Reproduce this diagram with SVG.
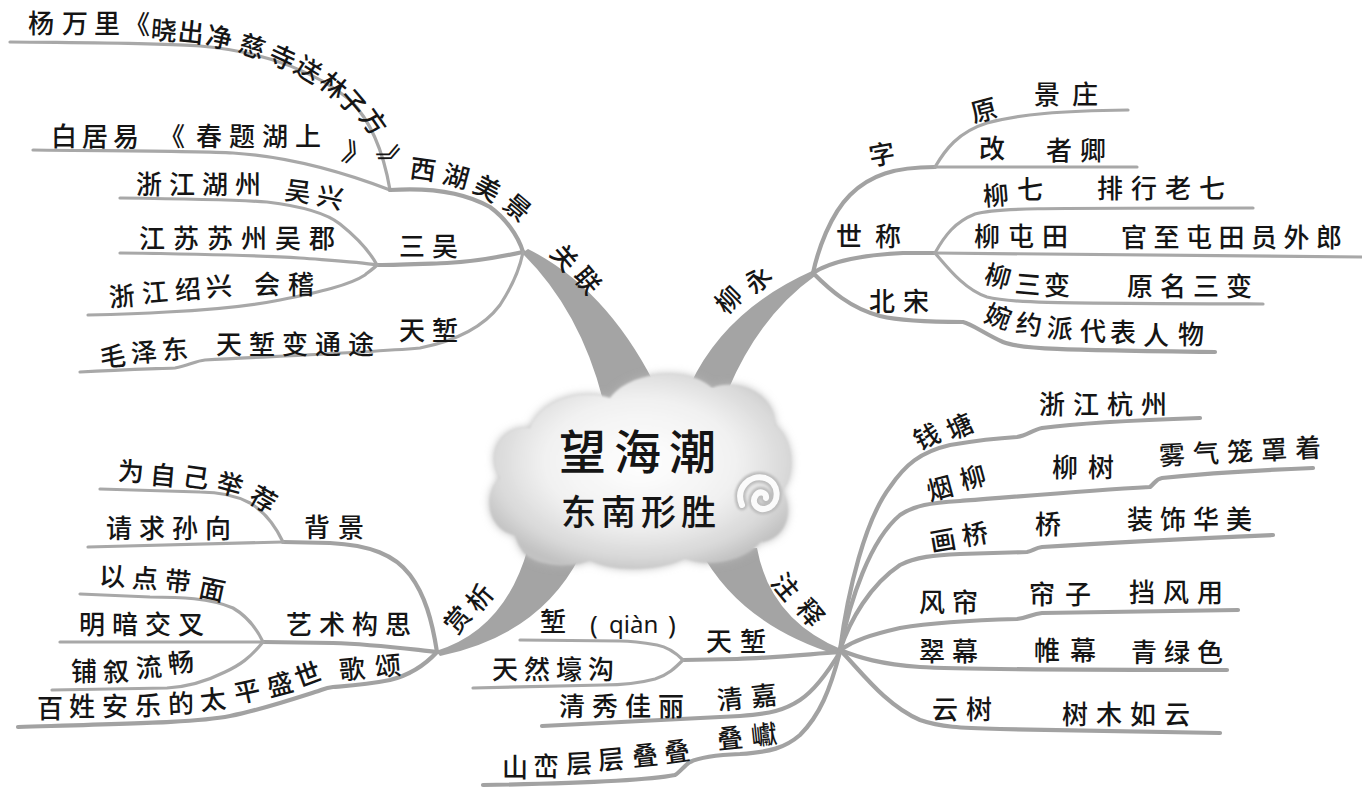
<svg xmlns="http://www.w3.org/2000/svg" width="1362" height="792" viewBox="0 0 1362 792">
<defs>
<style>
.t{font-family:"Noto Sans CJK SC","Noto Sans CJK JP",sans-serif;font-size:26px;font-weight:500;fill:#151515}
.c{text-anchor:middle}
.ln{fill:none;stroke:#a8a8a8;stroke-width:3.2;stroke-linecap:round;stroke-linejoin:round}
.lk{fill:none;stroke:#a2a2a2;stroke-width:4.2;stroke-linecap:round;stroke-linejoin:round}
.br{fill:#a4a4a4}
.title{font-family:"Noto Sans CJK SC",sans-serif;font-weight:500;fill:#151515}
</style>
<radialGradient id="cg" cx="50%" cy="45%" r="58%">
<stop offset="0" stop-color="#ffffff"/>
<stop offset="0.55" stop-color="#f1f1f1"/>
<stop offset="0.85" stop-color="#d8d8d8"/>
<stop offset="1" stop-color="#c2c2c2"/>
</radialGradient>
<filter id="soft" x="-20%" y="-20%" width="140%" height="140%"><feGaussianBlur stdDeviation="4"/></filter>
<filter id="soft2" x="-20%" y="-20%" width="140%" height="140%"><feGaussianBlur stdDeviation="1.2"/></filter>
</defs>
<rect width="1362" height="792" fill="#ffffff"/>

<g id="connectors">
<path class="br" d="M522,253 Q580,310 603,400 L660,395 Q610,290 528,249 Z"/>
<path class="br" d="M690,385 Q725,310 812,271 L815,276 Q760,315 728,390 Z"/>
<path class="br" d="M436,651 Q505,630 528,548 L580,556 Q540,635 440,656 Z"/>
<path class="br" d="M700,550 Q740,625 838,655 L843,650 Q770,620 757,548 Z"/>
<path class="ln" d="M10,42 C100,43 160,43 200,46 C270,52 320,75 350,100 C372,122 384,155 390,190"/>
<path class="ln" d="M33,150 C120,151 200,151 233,153 C280,156 330,167 390,190"/>
<path class="lk" d="M390,190 C420,188 460,190 490,207 C505,218 518,235 523,252"/>
<path class="lk" d="M523,252 C500,257 470,262 447,263 C420,264 400,265 377,265"/>
<path class="ln" d="M120,198 C200,199 240,200 267,202 C300,206 325,212 340,224 C355,236 370,252 377,265"/>
<path class="ln" d="M120,253 C200,254 270,256 300,258 C340,261 360,262 377,265"/>
<path class="ln" d="M88,315 C130,314 150,313 167,312 C210,310 250,306 280,300 C320,292 350,285 365,275 C370,271 374,268 377,265"/>
<path class="ln" d="M80,372 C120,370 150,369 175,368 C188,366 195,361 205,360 C280,356 360,353 420,348 C460,340 485,325 500,305 C513,285 520,268 523,252"/>
<path class="lk" d="M813,273 C818,250 830,215 850,195 C870,175 895,167 935,167"/>
<path class="ln" d="M935,167 C945,150 958,132 987,123 C1020,114 1060,111 1128,110"/>
<path class="ln" d="M935,167 L1137,167"/>
<path class="lk" d="M813,273 C830,262 860,255 903,253 L935,253"/>
<path class="ln" d="M935,253 C945,235 955,222 975,214 C995,208 1030,208 1253,208"/>
<path class="ln" d="M935,253 L1362,257"/>
<path class="ln" d="M935,253 C948,268 965,290 987,297 C1010,303 1040,303 1263,304"/>
<path class="lk" d="M813,273 C830,290 850,308 880,316 C905,322 940,322 963,322 C972,324 985,334 1003,342 C1020,349 1060,350 1215,352"/>
<path class="lk" d="M437,652 C432,620 425,595 410,575 C395,555 370,545 330,543 L283,542"/>
<path class="ln" d="M283,542 C275,525 265,512 250,503 C235,495 215,492 200,492 L100,489"/>
<path class="ln" d="M283,542 L88,547"/>
<path class="lk" d="M437,652 C400,648 370,644 333,643 L263,642"/>
<path class="ln" d="M263,642 C255,625 245,615 233,608 C210,598 180,597 150,597 L80,594"/>
<path class="ln" d="M263,642 L60,642"/>
<path class="ln" d="M263,642 C250,658 240,665 225,672 C205,682 185,687 167,688 L52,690"/>
<path class="lk" d="M437,652 C425,665 410,675 390,680 C365,685 345,686 333,687 C325,688 322,690 315,692 C290,700 260,710 230,716 C200,722 150,723 18,727"/>
<path class="lk" d="M840,652 C800,655 770,658 737,659 L683,660"/>
<path class="ln" d="M683,660 C675,652 668,647 657,645 C640,642 630,641 620,641 L520,640"/>
<path class="ln" d="M683,660 C675,668 668,675 655,679 C640,683 625,685 603,685 L473,688"/>
<path class="lk" d="M840,652 C828,672 815,690 800,700 C785,710 770,714 740,716 C700,718 650,720 542,726"/>
<path class="lk" d="M840,652 C830,690 820,715 800,735 C785,748 770,752 740,754 C715,755 700,757 690,762 C684,766 680,772 675,775 C650,780 600,783 483,785"/>
<path class="lk" d="M840,650 C848,590 865,520 890,487 C905,465 920,452 950,445 C980,440 1000,438 1017,437 C1027,436 1032,430 1042,428 C1080,423 1140,420 1200,418"/>
<path class="lk" d="M840,650 C850,600 870,540 900,515 C915,505 930,503 960,501 C1000,498 1080,491 1150,487 C1155,483 1156,479 1162,478 C1200,474 1260,470 1313,468"/>
<path class="lk" d="M840,650 C850,620 870,585 900,565 C915,557 935,555 960,554 L1027,552 C1033,551 1035,548 1042,547 C1100,543 1200,538 1273,535"/>
<path class="lk" d="M840,650 C855,640 870,635 900,628 C930,623 980,620 1017,619 C1027,618 1032,614 1042,613 L1238,610"/>
<path class="lk" d="M840,650 C860,658 880,664 920,667 C950,669 1000,670 1227,670"/>
<path class="lk" d="M840,650 C860,670 885,705 920,720 C940,727 960,728 1000,729 L1220,733"/>
</g>

<g id="center">
<path d="M515,535 C488,530 482,495 500,478 C485,455 500,425 530,428 C540,400 580,388 610,398 C630,370 690,366 712,388 C735,378 775,392 775,425 C795,440 795,478 782,490 C795,512 785,540 760,542 C745,562 705,568 685,558 C660,572 610,572 590,560 C570,570 530,565 522,550 C518,545 517,540 515,535 Z" fill="#b8b8b8" filter="url(#soft)"/>
<path d="M515,535 C488,530 482,495 500,478 C485,455 500,425 530,428 C540,400 580,388 610,398 C630,370 690,366 712,388 C735,378 775,392 775,425 C795,440 795,478 782,490 C795,512 785,540 760,542 C745,562 705,568 685,558 C660,572 610,572 590,560 C570,570 530,565 522,550 C518,545 517,540 515,535 Z" fill="url(#cg)" filter="url(#soft2)"/>
<path d="M742,505 C735,488 750,474 765,478 C780,483 780,503 768,508 C758,512 750,503 756,495 C760,490 767,493 766,498" fill="none" stroke="#bdbdbd" stroke-width="11" stroke-linecap="round" filter="url(#soft2)"/>
<path d="M742,505 C735,488 750,474 765,478 C780,483 780,503 768,508 C758,512 750,503 756,495 C760,490 767,493 766,498" fill="none" stroke="#fbfbfb" stroke-width="6" stroke-linecap="round"/>
<text class="title" x="559" y="469" font-size="47" letter-spacing="8">望海潮</text>
<text class="title" x="561" y="525" font-size="35" letter-spacing="5">东南形胜</text>
</g>

<g id="n-guanlian">
<text class="t c" x="564" y="267" transform="rotate(50 564 258)">关</text>
<text class="t c" x="587" y="290" transform="rotate(50 587 281)">联</text>
</g>
<g id="n-xihu">
<text class="t c" x="423" y="179" transform="rotate(8 423 170)">西</text>
<text class="t c" x="456" y="186" transform="rotate(15 456 177)">湖</text>
<text class="t c" x="487" y="198" transform="rotate(28 487 189)">美</text>
<text class="t c" x="517" y="217" transform="rotate(40 517 208)">景</text>
</g>
<g id="n-yang">
<text class="t c" x="41" y="33">杨</text>
<text class="t c" x="75" y="33">万</text>
<text class="t c" x="107" y="33">里</text>
<text class="t c" x="137" y="34">《</text>
<text class="t c" x="164" y="40" transform="rotate(5 164 31)">晓</text>
<text class="t c" x="191" y="42" transform="rotate(6 191 33)">出</text>
<text class="t c" x="219" y="47" transform="rotate(12 219 38)">净</text>
<text class="t c" x="252" y="56" transform="rotate(18 252 47)">慈</text>
<text class="t c" x="282" y="67" transform="rotate(25 282 58)">寺</text>
<text class="t c" x="308" y="79" transform="rotate(32 308 70)">送</text>
<text class="t c" x="333" y="95" transform="rotate(40 333 86)">林</text>
<text class="t c" x="352" y="112" transform="rotate(50 352 103)">子</text>
<text class="t c" x="373" y="131" transform="rotate(55 373 122)">方</text>
<text class="t c" x="391" y="169" transform="rotate(65 391 160)">》</text>
</g>
<g id="n-bai">
<text class="t" x="51" y="146" letter-spacing="5">白居易</text>
<text class="t c" x="172" y="146">《</text>
<text class="t" x="196" y="146" letter-spacing="7">春题湖上</text>
<text class="t c" x="356" y="164" transform="rotate(20 356 155)">》</text>
</g>
<g id="n-sanwu">
<text class="t" x="399" y="256" letter-spacing="7">三吴</text>
</g>
<g id="n-huzhou">
<text class="t" x="136" y="194" letter-spacing="7">浙江湖州</text>
<text class="t c" x="298" y="201" transform="rotate(8 298 192)">吴</text>
<text class="t c" x="330" y="207" transform="rotate(12 330 198)">兴</text>
</g>
<g id="n-suzhou">
<text class="t" x="139" y="248" letter-spacing="8">江苏苏州吴郡</text>
</g>
<g id="n-shaoxing">
<text class="t c" x="122" y="306" transform="rotate(-5 122 297)">浙</text>
<text class="t c" x="155" y="302" transform="rotate(-5 155 293)">江</text>
<text class="t c" x="188" y="299" transform="rotate(-5 188 290)">绍</text>
<text class="t c" x="219" y="296" transform="rotate(-5 219 287)">兴</text>
<text class="t" x="254" y="294" letter-spacing="8">会稽</text>
</g>
<g id="n-tianqian1">
<text class="t" x="399" y="340" letter-spacing="7">天堑</text>
<text class="t c" x="113" y="366" transform="rotate(-5 113 357)">毛</text>
<text class="t c" x="144" y="362" transform="rotate(-5 144 353)">泽</text>
<text class="t c" x="175" y="359" transform="rotate(-5 175 350)">东</text>
<text class="t" x="216" y="354" letter-spacing="7">天堑变通途</text>
</g>

<g id="n-liuyong">
<text class="t c" x="729" y="309" transform="rotate(-45 729 300)">柳</text>
<text class="t c" x="758" y="289" transform="rotate(-45 758 280)">永</text>
</g>
<g id="n-zi">
<text class="t c" x="882" y="164" transform="rotate(-10 882 155)">字</text>
<text class="t c" x="984" y="120" transform="rotate(-15 984 111)">原</text>
<text class="t" x="1034" y="104" letter-spacing="12">景庄</text>
<text class="t c" x="992" y="158">改</text>
<text class="t" x="1046" y="160" letter-spacing="8">者卿</text>
</g>
<g id="n-shicheng">
<text class="t" x="836" y="246" letter-spacing="13">世称</text>
<text class="t c" x="996" y="205" transform="rotate(-5 996 196)">柳</text>
<text class="t c" x="1030" y="199">七</text>
<text class="t" x="1097" y="198" letter-spacing="8">排行老七</text>
<text class="t" x="974" y="246" letter-spacing="8">柳屯田</text>
<text class="t" x="1121" y="247" letter-spacing="6.5">官至屯田员外郎</text>
<text class="t c" x="998" y="286" transform="rotate(15 998 277)">柳</text>
<text class="t c" x="1028" y="294" transform="rotate(5 1028 285)">三</text>
<text class="t c" x="1057" y="295">变</text>
<text class="t" x="1127" y="296" letter-spacing="7">原名三变</text>
</g>
<g id="n-beisong">
<text class="t" x="869" y="311" letter-spacing="8">北宋</text>
<text class="t c" x="998" y="326" transform="rotate(20 998 317)">婉</text>
<text class="t c" x="1029" y="334" transform="rotate(8 1029 325)">约</text>
<text class="t c" x="1060" y="338" transform="rotate(5 1060 329)">派</text>
<text class="t c" x="1093" y="341">代</text>
<text class="t c" x="1123" y="342">表</text>
<text class="t c" x="1156" y="345">人</text>
<text class="t c" x="1191" y="344">物</text>
</g>

<g id="n-shangxi">
<text class="t c" x="458" y="629" transform="rotate(-50 458 620)">赏</text>
<text class="t c" x="480" y="607" transform="rotate(-50 480 598)">析</text>
</g>
<g id="n-beijing">
<text class="t" x="304" y="537" letter-spacing="8">背景</text>
<text class="t c" x="131" y="481" transform="rotate(3 131 472)">为</text>
<text class="t c" x="163" y="485" transform="rotate(5 163 476)">自</text>
<text class="t c" x="196" y="487" transform="rotate(8 196 478)">己</text>
<text class="t c" x="230" y="494" transform="rotate(15 230 485)">举</text>
<text class="t c" x="263" y="509" transform="rotate(30 263 500)">荐</text>
<text class="t" x="106" y="538" letter-spacing="7">请求孙向</text>
</g>
<g id="n-yishu">
<text class="t" x="286" y="634" letter-spacing="7">艺术构思</text>
<text class="t c" x="112" y="586">以</text>
<text class="t c" x="145" y="588" transform="rotate(3 145 579)">点</text>
<text class="t c" x="178" y="591" transform="rotate(6 178 582)">带</text>
<text class="t c" x="212" y="599" transform="rotate(12 212 590)">面</text>
<text class="t" x="79" y="634" letter-spacing="7">明暗交叉</text>
<text class="t c" x="84" y="681">铺</text>
<text class="t c" x="116" y="681" transform="rotate(-3 116 672)">叙</text>
<text class="t c" x="149" y="677" transform="rotate(-5 149 668)">流</text>
<text class="t c" x="181" y="672" transform="rotate(-6 181 663)">畅</text>
</g>
<g id="n-gesong">
<text class="t" x="339" y="677" letter-spacing="10" transform="rotate(-5 370 668)">歌颂</text>
<text class="t c" x="50" y="718">百</text>
<text class="t c" x="82" y="716">姓</text>
<text class="t c" x="115" y="716">安</text>
<text class="t c" x="148" y="715">乐</text>
<text class="t c" x="181" y="713" transform="rotate(-3 181 704)">的</text>
<text class="t c" x="213" y="709" transform="rotate(-6 213 700)">太</text>
<text class="t c" x="247" y="701" transform="rotate(-12 247 692)">平</text>
<text class="t c" x="280" y="694" transform="rotate(-15 280 685)">盛</text>
<text class="t c" x="308" y="684" transform="rotate(-20 308 675)">世</text>
</g>

<g id="n-zhushi">
<text class="t c" x="785" y="596" transform="rotate(50 785 587)">注</text>
<text class="t c" x="810" y="622" transform="rotate(50 810 613)">释</text>
</g>
<g id="n-tianqian2">
<text class="t" x="706" y="651" letter-spacing="8">天堑</text>
<text class="t c" x="553" y="631">堑</text>
<text x="590" y="634" font-family="Noto Sans, sans-serif" font-size="26" fill="#151515">(</text>
<text x="609" y="633" font-family="Noto Sans, sans-serif" font-size="24" fill="#151515">qiàn</text>
<text x="668" y="634" font-family="Noto Sans, sans-serif" font-size="26" fill="#151515">)</text>
<text class="t" x="492" y="679" letter-spacing="6">天然壕沟</text>
</g>
<g id="n-qingjia">
<text class="t" x="717" y="707" letter-spacing="8" transform="rotate(-6 746 698)">清嘉</text>
<text class="t" x="559" y="716" letter-spacing="7">清秀佳丽</text>
</g>
<g id="n-dieyan">
<text class="t" x="717" y="746" letter-spacing="8" transform="rotate(-6 746 737)">叠巘</text>
<text class="t c" x="515" y="777">山</text>
<text class="t c" x="546" y="776">峦</text>
<text class="t c" x="579" y="773" transform="rotate(-3 579 764)">层</text>
<text class="t c" x="611" y="769" transform="rotate(-5 611 760)">层</text>
<text class="t c" x="645" y="765" transform="rotate(-6 645 756)">叠</text>
<text class="t c" x="677" y="761" transform="rotate(-8 677 752)">叠</text>
</g>
<g id="n-qiantang">
<text class="t c" x="927" y="446" transform="rotate(-25 927 437)">钱</text>
<text class="t c" x="960" y="436" transform="rotate(-25 960 427)">塘</text>
<text class="t" x="1039" y="414" letter-spacing="8">浙江杭州</text>
</g>
<g id="n-yanliu">
<text class="t c" x="940" y="498" transform="rotate(-15 940 489)">烟</text>
<text class="t c" x="973" y="487" transform="rotate(-15 973 478)">柳</text>
<text class="t" x="1052" y="477" letter-spacing="10">柳树</text>
<text class="t" x="1159" y="461" letter-spacing="8" transform="rotate(-3 1240 452)">雾气笼罩着</text>
</g>
<g id="n-huaqiao">
<text class="t c" x="943" y="550" transform="rotate(-10 943 541)">画</text>
<text class="t c" x="975" y="544" transform="rotate(-10 975 535)">桥</text>
<text class="t c" x="1048" y="534">桥</text>
<text class="t" x="1127" y="529" letter-spacing="7">装饰华美</text>
</g>
<g id="n-fenglian">
<text class="t" x="919" y="612" letter-spacing="7">风帘</text>
<text class="t" x="1029" y="604" letter-spacing="10">帘子</text>
<text class="t" x="1129" y="602" letter-spacing="8">挡风用</text>
</g>
<g id="n-cuimu">
<text class="t" x="919" y="661" letter-spacing="7">翠幕</text>
<text class="t" x="1034" y="660" letter-spacing="10">帷幕</text>
<text class="t" x="1131" y="662" letter-spacing="7">青绿色</text>
</g>
<g id="n-yunshu">
<text class="t" x="932" y="719" letter-spacing="8">云树</text>
<text class="t" x="1062" y="724" letter-spacing="8">树木如云</text>
</g>
</svg>
